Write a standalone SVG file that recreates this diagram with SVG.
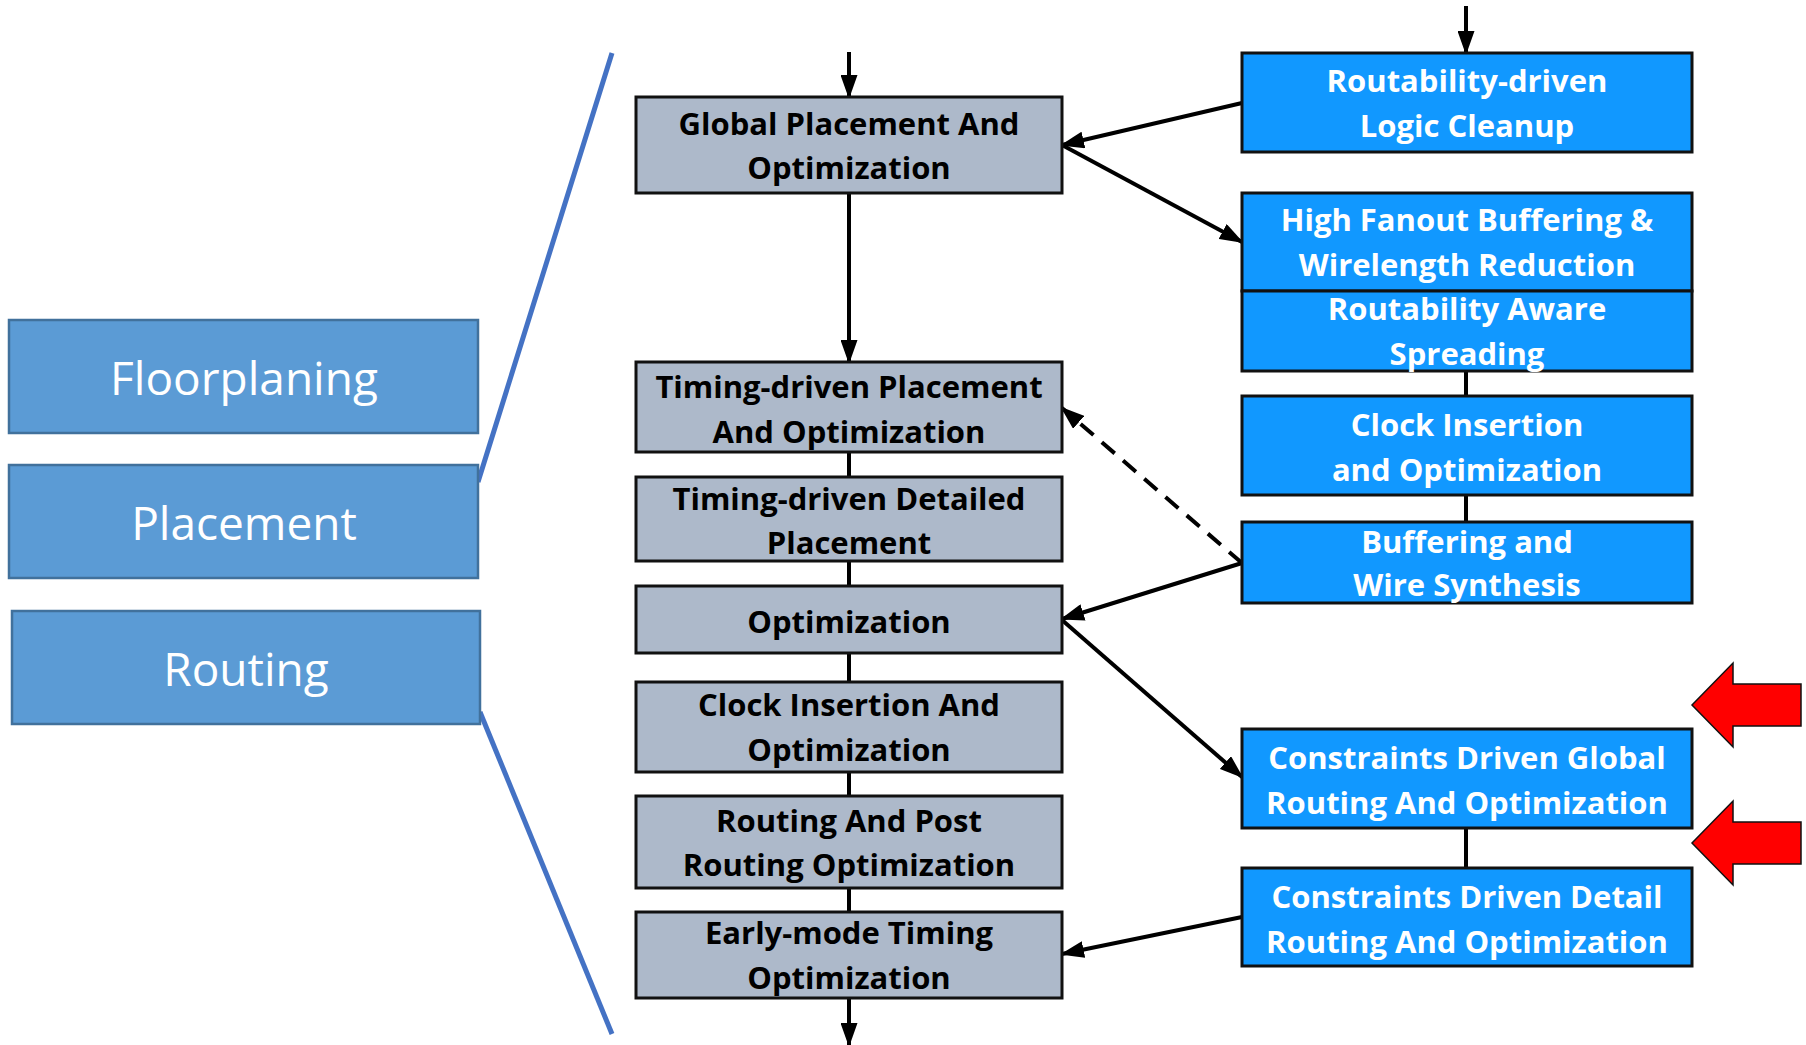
<svg xmlns="http://www.w3.org/2000/svg" width="1806" height="1045" viewBox="0 0 1806 1045">
<defs>
<style>
.stage{fill:#5B9BD5;stroke:#41719C;stroke-width:2.5}
.stxt{font-family:"Open Sans","Noto Sans",sans-serif;font-size:46px;fill:#fff;text-anchor:middle}
.gray{fill:#ADB9CA;stroke:#111;stroke-width:3}
.blue{fill:#1198FF;stroke:#111;stroke-width:3}
.gtxt{font-family:"Open Sans","Noto Sans",sans-serif;font-weight:bold;font-size:31px;fill:#000;text-anchor:middle}
.btxt{font-family:"Open Sans","Noto Sans",sans-serif;font-weight:bold;font-size:31px;fill:#fff;text-anchor:middle}
.ln{stroke:#000;stroke-width:4;fill:none}
.arr{stroke:#000;stroke-width:4;fill:none;marker-end:url(#ah)}
.dash{stroke-dasharray:17 11}
.bl{stroke:#4472C4;stroke-width:5;fill:none}
.red{fill:#FF0000;stroke:#111;stroke-width:1.5}
</style>
<marker id="ah" viewBox="0 0 24 17" refX="22" refY="8.5" markerWidth="24" markerHeight="17" orient="auto" markerUnits="userSpaceOnUse"><path d="M0,0 L24,8.5 L0,17 z" fill="#000"/></marker>
</defs>
<rect width="1806" height="1045" fill="#fff"/>
<g id="bracket">
<line class="bl" x1="612" y1="53" x2="478" y2="482"/>
<line class="bl" x1="480" y1="712" x2="612" y2="1034"/>
</g>
<g id="floorplaning"><rect class="stage" x="9" y="320" width="469" height="113"/><text class="stxt" x="244" y="395">Floorplaning</text></g>
<g id="placement"><rect class="stage" x="9" y="465" width="469" height="113"/><text class="stxt" x="244" y="540">Placement</text></g>
<g id="routing"><rect class="stage" x="12" y="611" width="468" height="113"/><text class="stxt" x="246" y="686">Routing</text></g>
<g id="connectors">
<line class="arr" x1="849" y1="52" x2="849" y2="97"/>
<line class="arr" x1="1466" y1="6" x2="1466" y2="53"/>
<line class="arr" x1="849" y1="193" x2="849" y2="362"/>
<line class="ln" x1="849" y1="452" x2="849" y2="477"/>
<line class="ln" x1="849" y1="561" x2="849" y2="586"/>
<line class="ln" x1="849" y1="653" x2="849" y2="682"/>
<line class="ln" x1="849" y1="772" x2="849" y2="796"/>
<line class="ln" x1="849" y1="888" x2="849" y2="912"/>
<line class="arr" x1="849" y1="998" x2="849" y2="1045"/>
<line class="ln" x1="1466" y1="371" x2="1466" y2="396"/>
<line class="ln" x1="1466" y1="495" x2="1466" y2="522"/>
<line class="ln" x1="1466" y1="828" x2="1466" y2="868"/>
<line class="arr" x1="1242" y1="103" x2="1062" y2="145"/>
<line class="arr" x1="1062" y1="145" x2="1242" y2="242"/>
<line class="arr dash" x1="1242" y1="563" x2="1062" y2="408"/>
<line class="arr" x1="1242" y1="563" x2="1062" y2="619"/>
<line class="arr" x1="1062" y1="620" x2="1242" y2="777"/>
<line class="arr" x1="1242" y1="917" x2="1062" y2="954"/>
</g>
<g id="global-placement"><rect class="gray" x="636" y="97" width="426" height="96"/><text class="gtxt" x="849" y="135">Global Placement And</text><text class="gtxt" x="849" y="179">Optimization</text></g>
<g id="timing-placement"><rect class="gray" x="636" y="362" width="426" height="90"/><text class="gtxt" x="849" y="398">Timing-driven Placement</text><text class="gtxt" x="849" y="443">And Optimization</text></g>
<g id="timing-detailed"><rect class="gray" x="636" y="477" width="426" height="84"/><text class="gtxt" x="849" y="510">Timing-driven Detailed</text><text class="gtxt" x="849" y="554">Placement</text></g>
<g id="optimization"><rect class="gray" x="636" y="586" width="426" height="67"/><text class="gtxt" x="849" y="633">Optimization</text></g>
<g id="clock-insertion"><rect class="gray" x="636" y="682" width="426" height="90"/><text class="gtxt" x="849" y="716">Clock Insertion And</text><text class="gtxt" x="849" y="761">Optimization</text></g>
<g id="routing-post"><rect class="gray" x="636" y="796" width="426" height="92"/><text class="gtxt" x="849" y="832">Routing And Post</text><text class="gtxt" x="849" y="876">Routing Optimization</text></g>
<g id="early-mode"><rect class="gray" x="636" y="912" width="426" height="86"/><text class="gtxt" x="849" y="944">Early-mode Timing</text><text class="gtxt" x="849" y="989">Optimization</text></g>
<g id="logic-cleanup"><rect class="blue" x="1242" y="53" width="450" height="99"/><text class="btxt" x="1467" y="92">Routability-driven</text><text class="btxt" x="1467" y="137">Logic Cleanup</text></g>
<g id="high-fanout"><rect class="blue" x="1242" y="193" width="450" height="98"/><text class="btxt" x="1467" y="231">High Fanout Buffering &amp;</text><text class="btxt" x="1467" y="276">Wirelength Reduction</text></g>
<g id="routability-spreading"><rect class="blue" x="1242" y="291" width="450" height="80"/><text class="btxt" x="1467" y="320">Routability Aware</text><text class="btxt" x="1467" y="365">Spreading</text></g>
<g id="clock-insertion-opt"><rect class="blue" x="1242" y="396" width="450" height="99"/><text class="btxt" x="1467" y="436">Clock Insertion</text><text class="btxt" x="1467" y="481">and Optimization</text></g>
<g id="buffering-wire"><rect class="blue" x="1242" y="522" width="450" height="81"/><text class="btxt" x="1467" y="553">Buffering and</text><text class="btxt" x="1467" y="596">Wire Synthesis</text></g>
<g id="global-routing"><rect class="blue" x="1242" y="729" width="450" height="99"/><text class="btxt" x="1467" y="769">Constraints Driven Global</text><text class="btxt" x="1467" y="814">Routing And Optimization</text></g>
<g id="detail-routing"><rect class="blue" x="1242" y="868" width="450" height="98"/><text class="btxt" x="1467" y="908">Constraints Driven Detail</text><text class="btxt" x="1467" y="953">Routing And Optimization</text></g>
<g id="red-arrow-1"><polygon class="red" points="1692,705 1733,663 1733,684 1801,684 1801,726 1733,726 1733,747"/></g>
<g id="red-arrow-2"><polygon class="red" points="1692,843 1733,801 1733,822 1801,822 1801,864 1733,864 1733,885"/></g>
</svg>
